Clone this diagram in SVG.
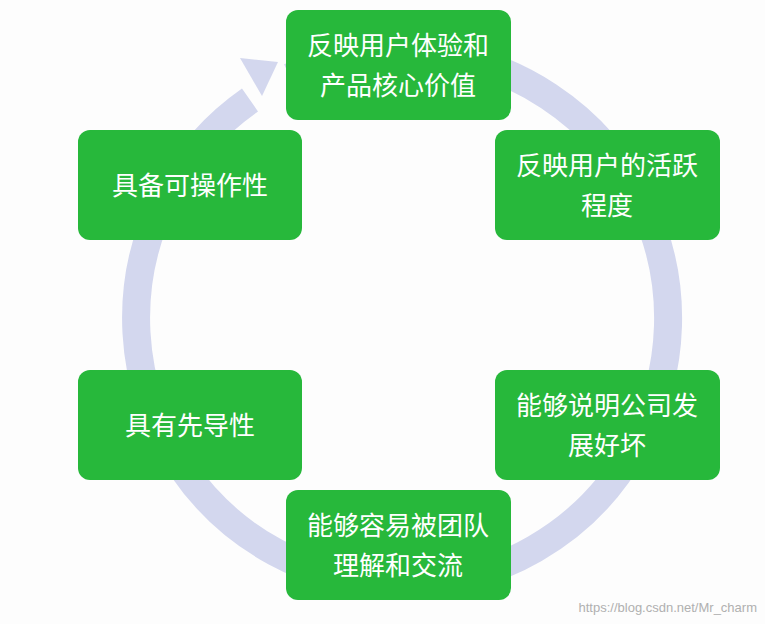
<svg xmlns="http://www.w3.org/2000/svg" width="765" height="624" viewBox="0 0 765 624">
<style>
.n{fill:#27b83b;}
.t{font-family:"Noto Sans CJK SC","Noto Sans",sans-serif;font-size:26px;fill:#fff;text-anchor:middle;}
</style>
<rect width="765" height="624" fill="#fdfdfd"/>
<g id="connectors">
<path d="M 250 100 A 266 266 0 1 0 290 77" fill="none" stroke="#d3d7ee" stroke-width="28"/>
<polygon points="240,58 278,62 262,96" fill="#d3d7ee"/>
</g>
<g id="n1"><rect class="n" x="286" y="10" width="225" height="110" rx="12"/><text class="t" x="398" y="55">反映用户体验和</text><text class="t" x="398" y="95">产品核心价值</text></g>
<g id="n2"><rect class="n" x="495" y="130" width="225" height="110" rx="12"/><text class="t" x="607" y="175">反映用户的活跃</text><text class="t" x="607" y="215">程度</text></g>
<g id="n3"><rect class="n" x="78" y="130" width="224" height="110" rx="12"/><text class="t" x="190" y="195">具备可操作性</text></g>
<g id="n4"><rect class="n" x="78" y="370" width="224" height="110" rx="12"/><text class="t" x="190" y="435">具有先导性</text></g>
<g id="n5"><rect class="n" x="495" y="370" width="225" height="110" rx="12"/><text class="t" x="607" y="415">能够说明公司发</text><text class="t" x="607" y="455">展好坏</text></g>
<g id="n6"><rect class="n" x="286" y="490" width="225" height="110" rx="12"/><text class="t" x="398" y="535">能够容易被团队</text><text class="t" x="398" y="575">理解和交流</text></g>
<text x="757" y="612" font-family="Liberation Sans,sans-serif" font-size="13" fill="#b0b0b0" text-anchor="end">https://blog.csdn.net/Mr_charm</text>
</svg>
